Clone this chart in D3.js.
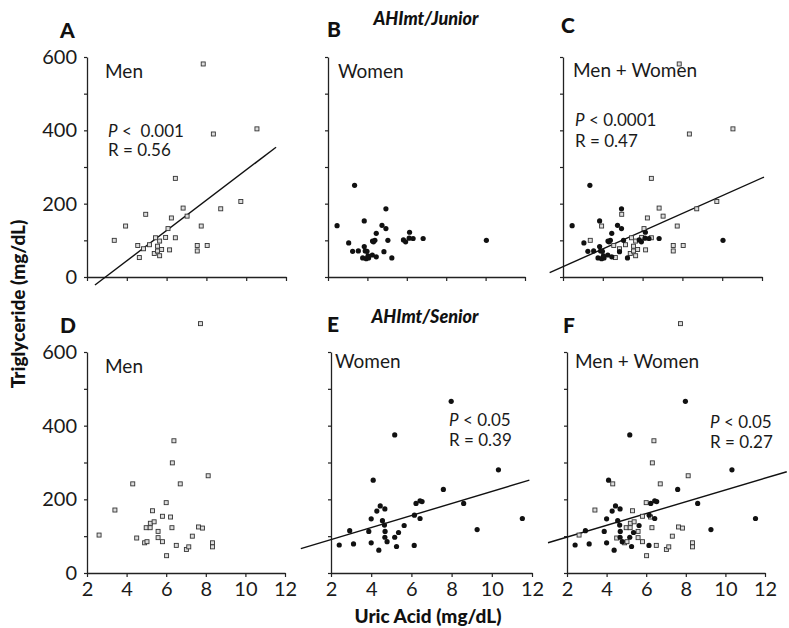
<!DOCTYPE html>
<html><head><meta charset="utf-8">
<script src="https://cdn.jsdelivr.net/npm/d3@7"></script>
<style>body{margin:0;background:#fff}svg{display:block}</style>
</head><body>
<svg id="c" width="789" height="628"></svg>
<script>
// ---- data (uric acid mg/dL, triglyceride mg/dL) ----
const menJunior = [[7.84,581],[8.35,390],[10.54,404],[6.44,269],[9.73,206],[6.83,188],[8.72,186],[4.95,171],[6.24,161],[7.03,166],[3.94,139],[7.74,139],[3.37,100],[4.55,86],[4.84,77],[5.14,88],[5.44,107],[5.65,98],[5.54,84],[5.38,64],[5.65,58],[5.54,71],[5.75,75],[5.95,108],[6.07,132],[6.15,74],[6.44,107],[4.63,53],[7.54,86],[7.54,71],[8.04,86]];
const womenJunior = [[3.35,250],[4.94,186],[2.46,140],[3.84,153],[4.74,141],[4.94,132],[4.45,119],[3.05,93],[3.25,70],[3.54,71],[3.84,83],[3.89,71],[3.98,70],[3.76,52],[3.94,50],[4.06,52],[4.03,58],[4.25,60],[4.45,55],[4.26,98],[4.38,100],[4.31,96],[4.84,69],[5.04,100],[5.24,52],[5.83,101],[5.94,96],[6.14,122],[6.12,106],[6.32,105],[6.83,105],[10.04,100]];
const menSenior = [[7.73,677],[6.39,359],[6.31,299],[4.31,242],[6.71,242],[8.12,264],[6.0,191],[3.41,171],[5.31,169],[5.81,154],[6.22,152],[2.61,103],[4.51,95],[4.99,123],[5.19,123],[5.2,135],[5.39,139],[5.59,113],[6.29,123],[5.59,96],[5.81,85],[4.91,82],[5.03,85],[6.02,47],[6.51,75],[7.02,64],[7.14,71],[7.32,100],[7.63,125],[7.83,122],[8.34,82],[8.34,71]];
const womenSenior = [[7.98,466],[5.17,375],[10.33,280],[4.1,252],[7.59,227],[8.6,189],[6.23,189],[6.43,196],[6.53,194],[4.45,182],[4.68,174],[4.28,168],[4.0,147],[4.56,142],[4.66,130],[4.69,113],[6.15,157],[6.43,148],[5.64,129],[5.36,110],[5.17,97],[4.68,97],[4.79,85],[3.88,113],[2.93,115],[2.41,76],[3.12,79],[4.0,82],[4.38,62],[5.26,72],[6.14,75],[9.27,118],[11.52,148]];
// regression fits: [slope, intercept, xStart, xEnd]
const fitA = [41.3, -121, 2.4, 11.5];
const fitC = [24.2, -20.2, 1.33, 12.1];
const fitE = [16.36, 57.8, 0.5, 11.87];
const fitF = [16.0, 65.4, 1.04, 13.1];
const xTicks = [2,4,6,8,10,12];
const yTicks = [0,100,200,300,400,500,600];
const yLabelTicks = [0,200,400,600];
const panelLetters = ["A","B","C","D","E","F"];
const groupTitles = ["AHImt/Junior","AHImt/Senior"];
const panelNames = ["Men","Women","Men + Women","Men","Women","Men + Women"];
const statsP = ["< \u00a00.001", null, "< 0.0001", null, "< 0.05", "< 0.05"];
const statsR = ["R = 0.56", null, "R = 0.47", null, "R = 0.39", "R = 0.27"];
const xTitle = "Uric Acid (mg/dL)";
const yTitle = "Triglyceride (mg/dL)";

// ---- layout ----
const FONT = "Lato, 'Open Sans', sans-serif";
const INK = "#222";
const panels = [
  {x0:87, w:199, top:57, bot:277, sq:menJunior, dots:[], fit:fitA, letter:[60,38], name:[105,78], stat:[108,137], statGap:19, yLab:true, xLab:false},
  {x0:328, w:197, top:57, bot:277, sq:[], dots:womenJunior, fit:null, letter:[327,37], name:[338,78], stat:null, yLab:false, xLab:false},
  {x0:563, w:199, top:57, bot:277, sq:menJunior, dots:womenJunior, fit:fitC, letter:[561,33], name:[573,77], stat:[575,126], statGap:21, yLab:false, xLab:false},
  {x0:87, w:198, top:352, bot:573, sq:menSenior, dots:[], fit:null, letter:[60,333], name:[105,373], stat:null, yLab:true, xLab:true},
  {x0:331, w:201, top:352, bot:573, sq:[], dots:womenSenior, fit:fitE, letter:[327,332], name:[335,368], stat:[449,426], statGap:20, yLab:false, xLab:true},
  {x0:567, w:198, top:352, bot:573, sq:menSenior, dots:womenSenior, fit:fitF, letter:[563,333], name:[575,368], stat:[710,428], statGap:20, yLab:false, xLab:true}
];

const svg = d3.select("#c");
svg.append("rect").attr("width",789).attr("height",628).attr("fill","#fff");

panels.forEach((p,i)=>{
  const x = d3.scaleLinear().domain([2,12]).range([p.x0, p.x0+p.w]);
  const y = d3.scaleLinear().domain([0,600]).range([p.bot, p.top]);
  const g = svg.append("g");

  const ya = d3.axisLeft(y).tickValues(yTicks).tickSize(3).tickSizeOuter(0).tickPadding(7)
    .tickFormat(d => (p.yLab && yLabelTicks.includes(d)) ? d : "");
  const gy = g.append("g").attr("transform",`translate(${p.x0},0)`).call(ya);
  const xa = d3.axisBottom(x).tickValues(xTicks).tickSize(4).tickSizeOuter(0).tickPadding(5)
    .tickFormat(d => p.xLab ? d : "");
  const gx = g.append("g").attr("transform",`translate(0,${p.bot})`).call(xa);
  [gx,gy].forEach(a=>{
    a.select(".domain").attr("stroke",INK).attr("stroke-width",1.3);
    a.selectAll(".tick line").attr("stroke",INK).attr("stroke-width",1.2);
    a.selectAll(".tick text").attr("fill","#1a1a1a").style("font-family",FONT).style("font-size","20px").style("font-weight","400");
  });

  if (p.fit){
    const [m,b,xs,xe] = p.fit;
    g.append("line").attr("x1",x(xs)).attr("y1",y(m*xs+b)).attr("x2",x(xe)).attr("y2",y(m*xe+b))
      .attr("stroke","#111").attr("stroke-width",1.4);
  }
  g.selectAll("rect.sq").data(p.sq).join("rect").attr("class","sq")
    .attr("x",d=>x(d[0])-2).attr("y",d=>y(d[1])-2).attr("width",4).attr("height",4)
    .attr("fill","#ddd").attr("stroke","#333").attr("stroke-width",0.9);
  g.selectAll("circle.dt").data(p.dots).join("circle").attr("class","dt")
    .attr("cx",d=>x(d[0])).attr("cy",d=>y(d[1])).attr("r",2.6).attr("fill","#111");

  g.append("text").attr("x",p.letter[0]).attr("y",p.letter[1]).text(panelLetters[i])
    .attr("fill","#111").style("font-family",FONT).style("font-size","21px").style("font-weight","900");
  g.append("text").attr("x",p.name[0]).attr("y",p.name[1]).text(panelNames[i])
    .attr("fill","#1a1a1a").style("font-family",FONT).style("font-size","19px").style("font-weight","400");
  if (p.stat){
    const t = g.append("text").attr("x",p.stat[0]).attr("y",p.stat[1])
      .attr("fill","#1a1a1a").style("font-family",FONT).style("font-size","17px").style("font-weight","400");
    t.append("tspan").text("P").style("font-style","italic");
    t.append("tspan").text(" " + statsP[i]);
    g.append("text").attr("x",p.stat[0]).attr("y",p.stat[1]+p.statGap).text(statsR[i])
      .attr("fill","#1a1a1a").style("font-family",FONT).style("font-size","17px").style("font-weight","400");
  }
});

// group titles
[[426,25],[425,323]].forEach((pos,k)=>{
  svg.append("text").attr("x",pos[0]).attr("y",pos[1]).attr("text-anchor","middle").text(groupTitles[k])
    .attr("fill","#111").style("font-family",FONT).style("font-size","18px").style("font-weight","900").style("font-style","italic");
});
// axis titles
svg.append("text").attr("x",428).attr("y",623).attr("text-anchor","middle").text(xTitle)
  .attr("fill","#111").style("font-family",FONT).style("font-size","19px").style("font-weight","900");
svg.append("text").attr("transform","translate(17,304) rotate(-90)").attr("text-anchor","middle")
  .attr("dominant-baseline","central").text(yTitle)
  .attr("fill","#111").style("font-family",FONT).style("font-size","19px").style("font-weight","900");
</script>
</body></html>
